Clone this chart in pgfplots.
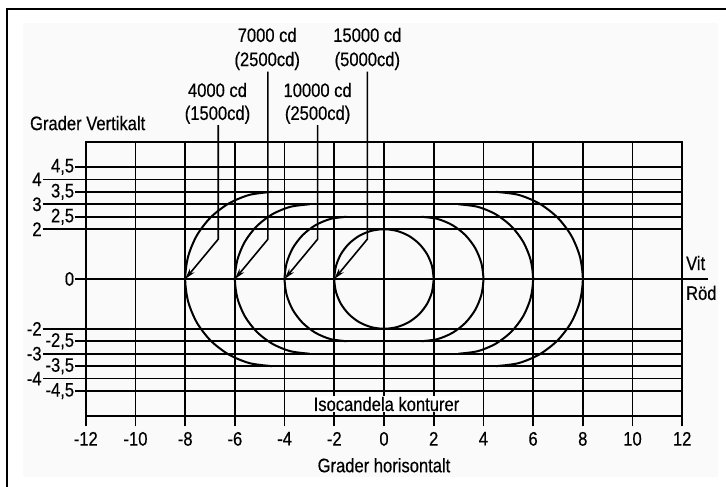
\documentclass[border=0pt]{standalone}
\usepackage{pgfplots}
\pgfplotsset{compat=1.18}
\usetikzlibrary{arrows.meta}
\usepackage{fontspec}
\setmainfont{Liberation Sans}[FakeStretch=0.85, FakeBold=0.4]

\definecolor{paper}{RGB}{250,250,250}

\begin{document}
\begin{tikzpicture}[font=\fontsize{19.5bp}{22bp}\selectfont]
\useasboundingbox (-384bp,-208bp) rectangle (342bp,279bp);
% page and frame
\fill[paper] (-361bp,-198bp) rectangle (334bp,256bp);
\draw[line width=2.4bp] (-377bp,-220bp) -- (-377bp,270bp) -- (360bp,270bp);

\begin{axis}[
  anchor=origin, at={(0,0)},
  x=24.85bp, y=24.9bp,
  xmin=-12, xmax=12, ymin=-5.5, ymax=5.5,
  clip=false,
  axis line style={line width=1.6bp},
  tick align=outside,
  xtick pos=bottom, ytick pos=left,
  major tick length=10.5bp,
  tick style={black, line width=1.6bp},
  xtick={-12,-10,...,12},
  xticklabels={-12,-10,-8,-6,-4,-2,0,2,4,6,8,10,12},
  xmajorgrids,
  ytick={-4.5,-3.5,-2.5,0,2.5,3.5,4.5},
  yticklabels={{-4,5},{-3,5},{-2,5},0,{2,5},{3,5},{4,5}},
  ymajorgrids,
  extra y ticks={-4,-3,-2,2,3,4},
  extra y tick labels={-4,-3,-2,2,3,4},
  extra y tick style={major tick length=43bp, grid=major, ytick pos=left},
  grid style={black, line width=1.6bp},
  yticklabel style={inner sep=1bp},
  xticklabel style={yshift=-2bp},
]
% isocandela contours
\addplot[black, line width=2bp, smooth] coordinates {
(2,0) (1.932,0.518) (1.732,1) (1.414,1.414) (1,1.732) (0.518,1.932) (0,2)
(-0.518,1.932) (-1,1.732) (-1.414,1.414) (-1.732,1) (-1.932,0.518) (-2,0)
(-1.932,-0.518) (-1.732,-1) (-1.414,-1.414) (-1,-1.732) (-0.518,-1.932) (0,-2)
(0.518,-1.932) (1,-1.732) (1.414,-1.414) (1.732,-1) (1.932,-0.518) (2,0)
};
\addplot[black, line width=2bp, smooth] coordinates {
(-1.5,2.5) (-2.147,2.415) (-2.75,2.165) (-3.268,1.768) (-3.665,1.25) (-3.915,0.647) (-4,0)
(-3.915,-0.647) (-3.665,-1.25) (-3.268,-1.768) (-2.75,-2.165) (-2.147,-2.415) (-1.5,-2.5)
};
\addplot[black, line width=2bp, smooth] coordinates {
(1.5,2.5) (2.147,2.415) (2.75,2.165) (3.268,1.768) (3.665,1.25) (3.915,0.647) (4,0)
(3.915,-0.647) (3.665,-1.25) (3.268,-1.768) (2.75,-2.165) (2.147,-2.415) (1.5,-2.5)
};
\addplot[black, line width=2bp, smooth] coordinates {
(-3,3) (-3.776,2.898) (-4.5,2.598) (-5.121,2.121) (-5.598,1.5) (-5.898,0.776) (-6,0)
(-5.898,-0.776) (-5.598,-1.5) (-5.121,-2.121) (-4.5,-2.598) (-3.776,-2.898) (-3,-3)
};
\addplot[black, line width=2bp, smooth] coordinates {
(3,3) (3.776,2.898) (4.5,2.598) (5.121,2.121) (5.598,1.5) (5.898,0.776) (6,0)
(5.898,-0.776) (5.598,-1.5) (5.121,-2.121) (4.5,-2.598) (3.776,-2.898) (3,-3)
};
\addplot[black, line width=2bp, smooth] coordinates {
(-4.5,3.5) (-5.406,3.381) (-6.25,3.031) (-6.975,2.475) (-7.531,1.75) (-7.881,0.906) (-8,0)
(-7.881,-0.906) (-7.531,-1.75) (-6.975,-2.475) (-6.25,-3.031) (-5.406,-3.381) (-4.5,-3.5)
};
\addplot[black, line width=2bp, smooth] coordinates {
(4.5,3.5) (5.406,3.381) (6.25,3.031) (6.975,2.475) (7.531,1.75) (7.881,0.906) (8,0)
(7.881,-0.906) (7.531,-1.75) (6.975,-2.475) (6.25,-3.031) (5.406,-3.381) (4.5,-3.5)
};

% leaders with arrows
\draw[line width=1.6bp, -{Stealth[length=11bp,width=6bp]}]
  (axis cs:-6.67,6.18) -- (axis cs:-6.67,1.6) -- (axis cs:-8,0);
\draw[line width=1.6bp, -{Stealth[length=11bp,width=6bp]}]
  (axis cs:-4.67,8.33) -- (axis cs:-4.67,1.6) -- (axis cs:-6,0);
\draw[line width=1.6bp, -{Stealth[length=11bp,width=6bp]}]
  (axis cs:-2.67,6.18) -- (axis cs:-2.67,1.6) -- (axis cs:-4,0);
\draw[line width=1.6bp, -{Stealth[length=11bp,width=6bp]}]
  (axis cs:-0.67,8.33) -- (axis cs:-0.67,1.6) -- (axis cs:-2,0);

\node[anchor=base] at (axis cs:-6.7,7.31) {4000 cd};
\node[anchor=base] at (axis cs:-6.7,6.39) {(1500cd)};
\node[anchor=base] at (axis cs:-4.7,9.52) {7000 cd};
\node[anchor=base] at (axis cs:-4.7,8.55) {(2500cd)};
\node[anchor=base] at (axis cs:-2.67,7.31) {10000 cd};
\node[anchor=base] at (axis cs:-2.67,6.39) {(2500cd)};
\node[anchor=base] at (axis cs:-0.67,9.52) {15000 cd};
\node[anchor=base] at (axis cs:-0.67,8.55) {(5000cd)};

% white / red boundary
\draw[line width=1.6bp] (axis cs:12,0) -- (axis cs:13.04,0);
\node[anchor=base west, inner sep=0pt] at (axis cs:12.15,0.36) {Vit};
\node[anchor=base west, inner sep=0pt] at (axis cs:12.15,-0.84) {Röd};

\node[anchor=base west, inner sep=0pt] at (axis cs:-14.25,5.98) {Grader Vertikalt};
\node[anchor=base, fill=white, inner sep=0.5bp] at (axis cs:0.1,-5.3) {Isocandela konturer};
\node[anchor=base] at (axis cs:0,-7.76) {Grader horisontalt};
\end{axis}
\end{tikzpicture}
\end{document}
